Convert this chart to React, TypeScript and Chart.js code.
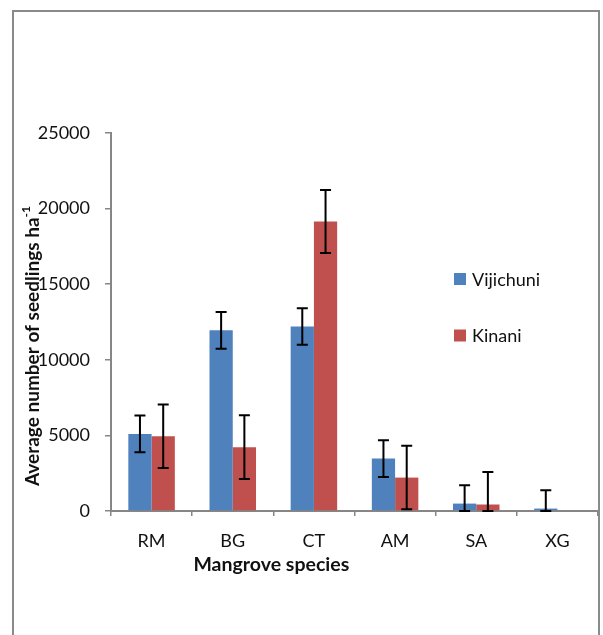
import React, { useEffect, useRef } from "react";
import { Chart, registerables } from "chart.js";

Chart.register(...registerables);

const categories = ["RM", "BG", "CT", "AM", "SA", "XG"];
const vijichuniValues = [5100, 11950, 12200, 3470, 490, 160];
const vijichuniErrors = [1220, 1215, 1210, 1215, 1215, 1215];
const kinaniValues = [4950, 4220, 19150, 2210, 430, 0];
const kinaniErrors: (number | null)[] = [2100, 2110, 2080, 2100, 2150, null];
const seriesNames = ["Vijichuni", "Kinani"];
const seriesColors = ["#4F81BD", "#C0504D"];
const yTicks = [0, 5000, 10000, 15000, 20000, 25000];

const FONT = "Lato, 'Noto Sans', sans-serif";
const AXIS_GREY = "#868686";
const TEXT = "#111111";

const errorsBySeries = [vijichuniErrors, kinaniErrors];

const errorBarPlugin = {
  id: "errorBars",
  afterDatasetsDraw(chart: any) {
    const ctx = chart.ctx;
    const y = chart.scales.y;
    ctx.save();
    ctx.strokeStyle = "#000000";
    ctx.lineWidth = 2;
    chart.data.datasets.forEach((ds: any, di: number) => {
      const meta = chart.getDatasetMeta(di);
      meta.data.forEach((bar: any, i: number) => {
        const err = errorsBySeries[di][i];
        if (err == null) return;
        const v = ds.data[i];
        const top = y.getPixelForValue(v + err);
        const bottom = y.getPixelForValue(Math.max(0, v - err));
        const cap = 5.5;
        ctx.beginPath();
        ctx.moveTo(bar.x, top);
        ctx.lineTo(bar.x, bottom);
        ctx.moveTo(bar.x - cap, top);
        ctx.lineTo(bar.x + cap, top);
        ctx.moveTo(bar.x - cap, bottom);
        ctx.lineTo(bar.x + cap, bottom);
        ctx.stroke();
      });
    });
    ctx.restore();
  },
};

const decorPlugin = {
  id: "decor",
  afterDraw(chart: any) {
    const ctx = chart.ctx;
    const area = chart.chartArea;
    const x = chart.scales.x;
    ctx.save();

    // outer frame (open at the bottom)
    ctx.strokeStyle = "#8a8a8a";
    ctx.lineWidth = 2;
    ctx.beginPath();
    ctx.moveTo(13, chart.height + 5);
    ctx.lineTo(13, 11);
    ctx.lineTo(area.right + 1, 11);
    ctx.lineTo(area.right + 1, chart.height + 5);
    ctx.stroke();

    // legend
    ctx.font = `18px ${FONT}`;
    ctx.textBaseline = "middle";
    ctx.textAlign = "left";
    seriesNames.forEach((name, i) => {
      const cy = 279 + i * 56.5;
      ctx.fillStyle = seriesColors[i];
      ctx.fillRect(454, cy - 6, 12, 12);
      ctx.fillStyle = TEXT;
      ctx.fillText(name, 472, cy + 1);
    });

    // x axis title
    ctx.font = `bold 19.5px ${FONT}`;
    ctx.textAlign = "center";
    ctx.fillStyle = TEXT;
    ctx.fillText("Mangrove species", x.getPixelForValue(1.5) - 2, 565);

    // y axis title with superscript unit
    const main = "Average number of seedlings ha";
    const sup = "-1";
    ctx.font = `bold 19px ${FONT}`;
    const wMain = ctx.measureText(main).width;
    ctx.font = `bold 12px ${FONT}`;
    const wSup = ctx.measureText(sup).width;
    const total = wMain + wSup;
    const cy = (area.top + area.bottom) / 2 + 24;
    ctx.translate(33, cy);
    ctx.rotate(-Math.PI / 2);
    ctx.textAlign = "left";
    ctx.textBaseline = "middle";
    ctx.font = `bold 19px ${FONT}`;
    ctx.fillText(main, -total / 2, 0);
    ctx.font = `bold 12px ${FONT}`;
    ctx.fillText(sup, -total / 2 + wMain, -7);
    ctx.restore();
  },
};

export default function App() {
  const canvasRef = useRef<HTMLCanvasElement | null>(null);

  useEffect(() => {
    const canvas = canvasRef.current;
    if (!canvas) return;
    const chart = new Chart(canvas, {
      type: "bar",
      data: {
        labels: categories,
        datasets: [
          {
            label: seriesNames[0],
            data: vijichuniValues,
            backgroundColor: seriesColors[0],
            borderWidth: 0,
            categoryPercentage: 0.573,
            barPercentage: 1,
          },
          {
            label: seriesNames[1],
            data: kinaniValues,
            backgroundColor: seriesColors[1],
            borderWidth: 0,
            categoryPercentage: 0.573,
            barPercentage: 1,
          },
        ],
      },
      options: {
        responsive: false,
        animation: false,
        devicePixelRatio: 1,
        layout: { padding: { left: 0, right: 5, top: 133, bottom: 0 } },
        plugins: {
          legend: { display: false },
          tooltip: { enabled: false },
          title: { display: false },
        },
        scales: {
          x: {
            afterFit: (scale: any) => {
              scale.height = 124;
            },
            grid: {
              display: true,
              offset: true,
              drawOnChartArea: false,
              drawTicks: true,
              tickLength: 5,
              color: AXIS_GREY,
              lineWidth: 1.5,
            },
            border: { display: true, color: AXIS_GREY, width: 2 },
            ticks: {
              color: TEXT,
              font: { family: FONT, size: 18 },
              padding: 14,
              maxRotation: 0,
            },
          },
          y: {
            min: 0,
            max: 25000,
            afterFit: (scale: any) => {
              scale.width = 111;
            },
            afterBuildTicks: (scale: any) => {
              scale.ticks = yTicks.map((v) => ({ value: v }));
            },
            grid: {
              display: true,
              drawOnChartArea: false,
              drawTicks: true,
              tickLength: 6,
              color: AXIS_GREY,
              lineWidth: 1.5,
            },
            border: { display: true, color: AXIS_GREY, width: 2 },
            ticks: {
              color: TEXT,
              font: { family: FONT, size: 18 },
              padding: 15,
              callback: (v: any) => String(v),
            },
          },
        },
      },
      plugins: [errorBarPlugin, decorPlugin],
    });
    return () => chart.destroy();
  }, []);

  return (
    <div style={{ position: "absolute", left: 0, top: 0, width: 603, height: 635, background: "#ffffff" }}>
      <canvas ref={canvasRef} width={603} height={635} style={{ display: "block" }} />
    </div>
  );
}
